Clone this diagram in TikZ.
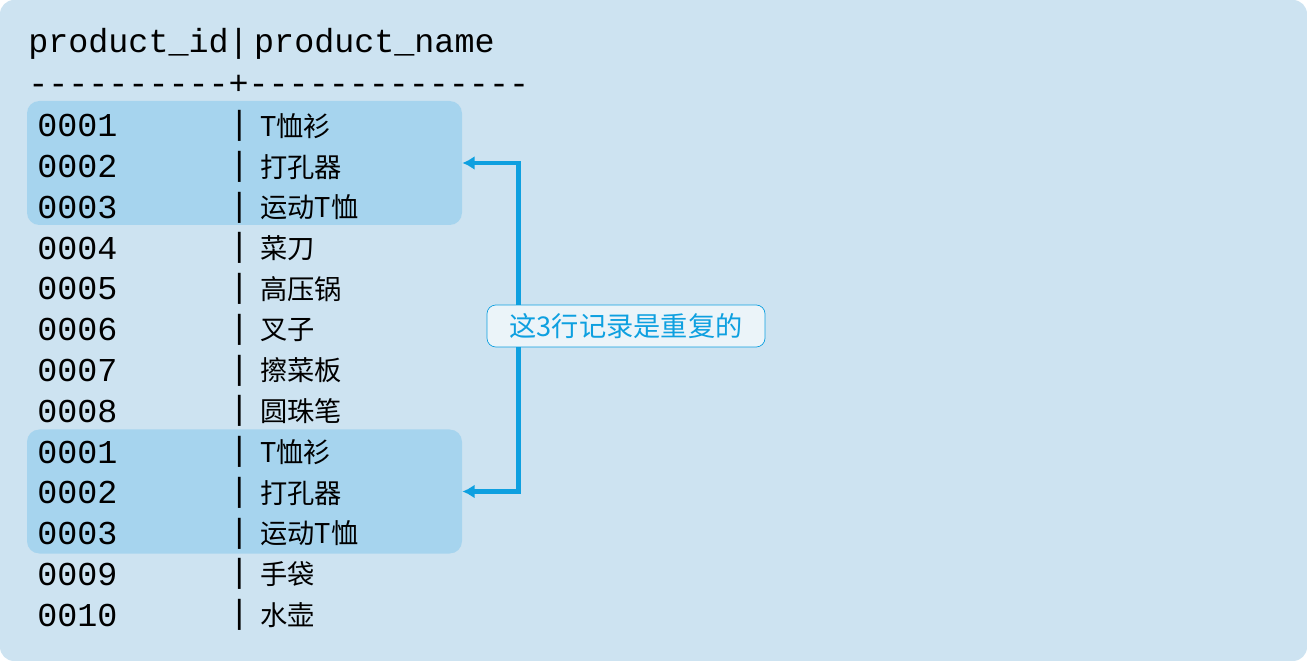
\documentclass[tikz,border=0pt]{standalone}
\usepackage{fontspec}
\setmonofont{Liberation Mono}
\newfontfamily\cjk{Noto Sans CJK SC}
\usetikzlibrary{arrows.meta}
\definecolor{bgblue}{HTML}{CDE3F1}
\definecolor{hlblue}{HTML}{A6D4EE}
\definecolor{linkblue}{HTML}{0EA0E0}
\tikzset{
  rowtxt/.style={anchor=west, inner sep=0pt, font=\fontsize{19}{19}\selectfont\ttfamily},
  nametxt/.style={anchor=west, inner sep=0pt, font=\fontsize{15.5}{16}\selectfont\cjk},
  hlbox/.style={fill=hlblue, rounded corners=7pt, minimum width=435*0.02cm, minimum height=124*0.02cm, inner sep=0pt},
  callout/.style={draw=linkblue, fill=bgblue!40!white, rounded corners=5pt, text=linkblue,
    font=\fontsize{15.5}{16}\selectfont\cjk, minimum width=278*0.02cm, minimum height=42*0.02cm},
  link/.style={draw=linkblue, line width=2.6pt, -{Latex[length=7pt,width=8pt]}}
}
\begin{document}
\begin{tikzpicture}[x=0.02cm,y=-0.02cm]
  \fill[bgblue, rounded corners=8pt] (0,0) rectangle (1307,661);
  \node[hlbox] (hl1) at (244.5,163) {};
  \node[hlbox] (hl2) at (244.5,491.5) {};
  \node[rowtxt] (head) at (28,44) {product\_id|\,product\_name};
  \node[rowtxt] (rule) at (28,85) {----------+--------------};
  \foreach \id/\name [count=\i] in {0001/T恤衫,0002/打孔器,0003/运动T恤,0004/菜刀,
      0005/高压锅,0006/叉子,0007/擦菜板,0008/圆珠笔,0001/T恤衫,0002/打孔器,
      0003/运动T恤,0009/手袋,0010/水壶}{
    \node[rowtxt] (id\i) at (37,{126+40.75*(\i-1)}) {\id};
    \node[rowtxt] (bar\i) at (229,{126+40.75*(\i-1)}) {|};
    \node[nametxt] (name\i) at (260,{126+40.75*(\i-1)}) {\name};
  }
  \node[callout] (note) at (626,326) {这3行记录是重复的};
  \coordinate (up) at ([xshift=32*0.02cm]note.north west);
  \coordinate (dn) at ([xshift=32*0.02cm]note.south west);
  \draw[link] (up) |- (hl1.east);
  \draw[link] (dn) |- (hl2.east);
\end{tikzpicture}
\end{document}
